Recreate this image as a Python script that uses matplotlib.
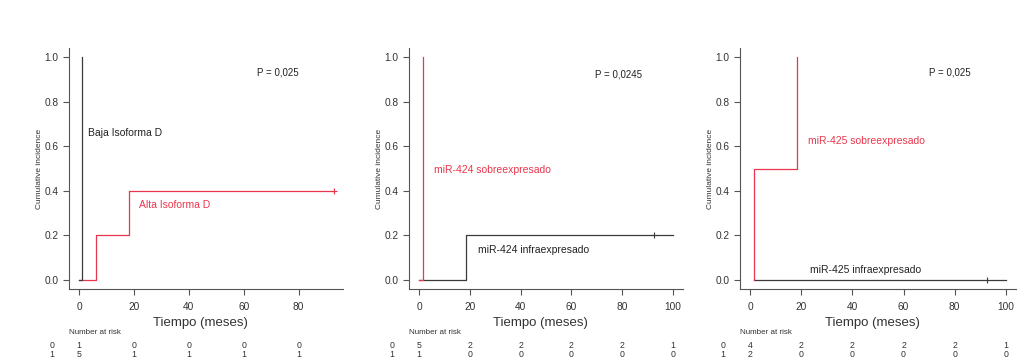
import matplotlib
matplotlib.use("Agg")
import matplotlib.pyplot as plt

plt.rcParams['font.family'] = ['Liberation Sans', 'DejaVu Sans']

# ---- data ----
# Panel 1
p1_black_x = [0, 1.2, 1.2]
p1_black_y = [0, 0, 1.0]
p1_red_x = [0, 6.1, 6.1, 18.3, 18.3, 93]
p1_red_y = [0, 0, 0.2, 0.2, 0.4, 0.4]
p1_red_cens_x = [93]
p1_red_cens_y = [0.4]
p1_xmax = 92.5
p1_ticks = [0, 20, 40, 60, 80]
p1_risk0 = [1, 0, 0, 0, 0]
p1_risk1 = [5, 1, 1, 1, 1]
p1_pval = "P = 0,025"
p1_black_label = "Baja Isoforma D"
p1_red_label = "Alta Isoforma D"

# Panel 2
p2_red_x = [0, 1.4, 1.4]
p2_red_y = [0, 0, 1.0]
p2_black_x = [0, 18.4, 18.4, 100]
p2_black_y = [0, 0, 0.2, 0.2]
p2_black_cens_x = [92.5]
p2_black_cens_y = [0.2]
p2_xmax = 100
p2_ticks = [0, 20, 40, 60, 80, 100]
p2_risk0 = [5, 2, 2, 2, 2, 1]
p2_risk1 = [1, 0, 0, 0, 0, 0]
p2_pval = "P = 0,0245"
p2_red_label = "miR-424 sobreexpresado"
p2_black_label = "miR-424 infraexpresado"

# Panel 3
p3_red_x = [1.4, 1.4, 18.4, 18.4]
p3_red_y = [0, 0.5, 0.5, 1.0]
p3_black_x = [1.4, 100]
p3_black_y = [0, 0]
p3_black_cens_x = [92.8]
p3_black_cens_y = [0]
p3_xmax = 100
p3_ticks = [0, 20, 40, 60, 80, 100]
p3_risk0 = [4, 2, 2, 2, 2, 1]
p3_risk1 = [2, 0, 0, 0, 0, 0]
p3_pval = "P = 0,025"
p3_red_label = "miR-425 sobreexpresado"
p3_black_label = "miR-425 infraexpresado"

yticks = [0.0, 0.2, 0.4, 0.6, 0.8, 1.0]

RED = "#e8364c"
BLACK = "#3a3a3a"
AXC = "#555555"
TXT = "#333333"

W, H = 1025, 360
fig = plt.figure(figsize=(W / 100, H / 100), dpi=100)


def make_ax(left, right, top=48, bottom=289):
    return fig.add_axes([left / W, (H - bottom) / H, (right - left) / W, (bottom - top) / H])


def style(ax, xmax, ticks):
    span = xmax
    ax.set_xlim(-0.04 * span, xmax + 0.04 * span)
    ax.set_ylim(-0.04, 1.04)
    for s in ["top", "right"]:
        ax.spines[s].set_visible(False)
    for s in ["left", "bottom"]:
        ax.spines[s].set_color(AXC)
        ax.spines[s].set_linewidth(0.8)
    ax.set_xticks(ticks)
    ax.set_yticks(yticks)
    ax.set_yticklabels([f"{v:.1f}" for v in yticks])
    ax.tick_params(axis="both", direction="out", length=4.5, width=0.8, color=AXC,
                   labelsize=7.3, labelcolor=TXT, pad=3)
    ax.tick_params(axis="x", pad=5)
    ax.set_ylabel("Cumulative incidence", fontsize=6, color=TXT, labelpad=1)
    ax.set_facecolor("none")


PX = 0.72  # points per pixel at 100 dpi


def risk_table(ax, ticks, r0, r1):
    tr = ax.get_xaxis_transform()
    ax.annotate("Number at risk", xy=(0.0, 0), xycoords="axes fraction",
                xytext=(0, -43 * PX), textcoords="offset points", ha="left", va="center",
                fontsize=5.8, color=TXT, annotation_clip=False)
    ax.annotate("Tiempo (meses)", xy=(0.48, 0), xycoords="axes fraction",
                xytext=(0, -34 * PX), textcoords="offset points", ha="center", va="center",
                fontsize=9.5, color=TXT, annotation_clip=False)
    for row, vals, yoff in [(0, r0, -56.5), (1, r1, -65.5)]:
        ax.annotate(str(row), xy=(ticks[0], 0), xycoords=tr,
                    xytext=(-27 * PX, yoff * PX), textcoords="offset points",
                    ha="center", va="center", fontsize=6.3, color=TXT, annotation_clip=False)
        for t, v in zip(ticks, vals):
            ax.annotate(str(v), xy=(t, 0), xycoords=tr,
                        xytext=(0, yoff * PX), textcoords="offset points",
                        ha="center", va="center", fontsize=6.3, color=TXT, annotation_clip=False)


# Panel 1
ax1 = make_ax(69, 343)
style(ax1, p1_xmax, p1_ticks)
ax1.plot(p1_red_x, p1_red_y, color=RED, lw=0.9)
ax1.plot(p1_black_x, p1_black_y, color=BLACK, lw=0.9)
ax1.plot(p1_red_cens_x, p1_red_cens_y, marker="+", color=RED, ms=5, mew=0.8, ls="none")
ax1.text(65, 0.93, p1_pval, fontsize=7, color="#222222", ha="left", va="center")
ax1.text(3.3, 0.66, p1_black_label, fontsize=7.5, color="#222222", ha="left", va="center")
ax1.text(21.8, 0.335, p1_red_label, fontsize=7.5, color=RED, ha="left", va="center")
risk_table(ax1, p1_ticks, p1_risk0, p1_risk1)

# Panel 2
ax2 = make_ax(409, 683)
style(ax2, p2_xmax, p2_ticks)
ax2.plot(p2_black_x, p2_black_y, color=BLACK, lw=0.9)
ax2.plot(p2_red_x, p2_red_y, color=RED, lw=0.9)
ax2.plot(p2_black_cens_x, p2_black_cens_y, marker="+", color=BLACK, ms=5, mew=0.8, ls="none")
ax2.text(69.5, 0.92, p2_pval, fontsize=7, color="#222222", ha="left", va="center")
ax2.text(6.0, 0.495, p2_red_label, fontsize=7.5, color=RED, ha="left", va="center")
ax2.text(23, 0.133, p2_black_label, fontsize=7.5, color="#222222", ha="left", va="center")
risk_table(ax2, p2_ticks, p2_risk0, p2_risk1)

# Panel 3
ax3 = make_ax(740, 1016)
style(ax3, p3_xmax, p3_ticks)
ax3.plot(p3_black_x, p3_black_y, color=BLACK, lw=0.9)
ax3.plot(p3_red_x, p3_red_y, color=RED, lw=0.9)
ax3.plot(p3_black_cens_x, p3_black_cens_y, marker="|", color=BLACK, ms=5, mew=0.8, ls="none")
ax3.text(70, 0.93, p3_pval, fontsize=7, color="#222222", ha="left", va="center")
ax3.text(22.6, 0.624, p3_red_label, fontsize=7.5, color=RED, ha="left", va="center")
ax3.text(23.2, 0.045, p3_black_label, fontsize=7.5, color="#222222", ha="left", va="center")
risk_table(ax3, p3_ticks, p3_risk0, p3_risk1)

fig.savefig("out.png", dpi=100, facecolor="white")
